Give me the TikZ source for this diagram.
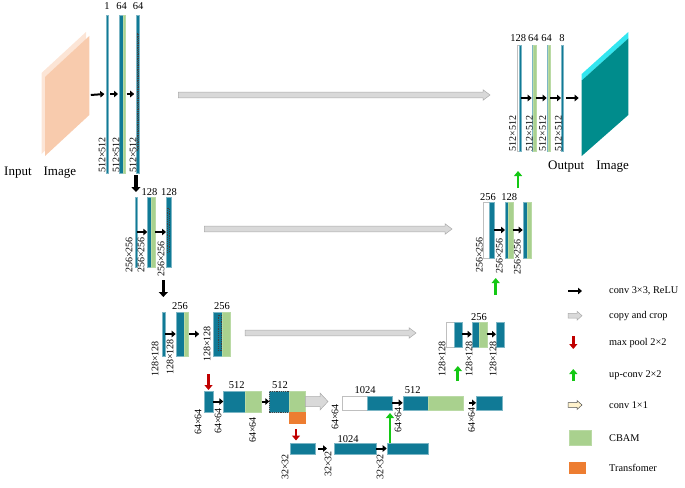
\documentclass[tikz,border=0pt]{standalone}
\usepackage{fontspec}
\setmainfont{Liberation Serif}
\usetikzlibrary{arrows.meta,calc,positioning}

\definecolor{blk}{RGB}{16,122,150}
\definecolor{cbam}{RGB}{169,209,142}
\definecolor{trf}{RGB}{237,125,49}
\definecolor{peach}{RGB}{248,203,173}
\definecolor{peachl}{RGB}{252,229,214}
\definecolor{outt}{RGB}{0,140,140}
\definecolor{outc}{RGB}{51,230,240}
\definecolor{cpfill}{RGB}{217,217,217}
\definecolor{cpline}{RGB}{170,170,170}
\definecolor{poolred}{RGB}{192,0,0}
\definecolor{upgreen}{RGB}{20,200,20}
\definecolor{beige}{RGB}{255,242,204}

% style, from, to, half shaft, half head, head length
\newcommand\fatarrow[6]{%
  \filldraw[#1] ($(#2)+(0,#4)$) -- ($(#3)+(-#6,#4)$) -- ($(#3)+(-#6,#5)$) -- (#3)
    -- ($(#3)+(-#6,-#5)$) -- ($(#3)+(-#6,-#4)$) -- ($(#2)+(0,-#4)$) -- cycle;}

\begin{document}
\begin{tikzpicture}[x=1pt, y=-1pt,
    sz/.style 2 args={minimum width=#1pt, minimum height=#2pt},
    fm/.style={fill=blk, draw=blk!55!white, line width=0.3pt, inner sep=0, outer sep=0, anchor=north west},
    cb/.style={fm, fill=cbam, draw=cbam!80!white},
    wh/.style={fm, fill=white, draw=black!25},
    dsh/.style={draw=black!75, dash pattern=on 1.2pt off 1pt, line width=0.4pt, inner sep=0, outer sep=0, anchor=north west},
    conv/.style={-{Triangle[length=4pt,width=6.5pt]}, line width=2pt, black},
    downarr/.style={-{Triangle[length=5pt,width=9pt]}, line width=3.5pt, black},
    maxpool/.style={-{Triangle[length=5pt,width=8pt]}, line width=2.8pt, poolred},
    upconv/.style={-{Triangle[length=5pt,width=8pt]}, line width=2.8pt, upgreen},
    copyarr/.style={fill=cpfill, draw=cpline, line width=0.5pt},
    num/.style={inner sep=0, font=\fontsize{10.5}{12}\selectfont},
    dim/.style={inner sep=0, rotate=90, anchor=west, font=\fontsize{10}{11}\selectfont},
    lgd/.style={inner sep=0, anchor=west, font=\fontsize{10.3}{12}\selectfont},
    imglbl/.style={inner sep=0, anchor=west, font=\fontsize{13}{15}\selectfont}]
  \useasboundingbox (0,0) rectangle (685,487);

  % input and output image
  \fill[peachl] (41.5,73) -- (86,32) -- (86,113) -- (41.5,154) -- cycle;
  \fill[peach] (45,77) -- (89.3,36) -- (89.3,115) -- (45,156) -- cycle;
  \coordinate (inr) at (89.3,95);
  \node[imglbl] (inlbl) at (4,173) {Input\hspace{12pt}Image};

  \fill[outc] (581.7,74) -- (628.3,32) -- (628.3,38.5) -- (581.7,80.5) -- cycle;
  \fill[outt] (581.7,80.5) -- (628.3,38.5) -- (628.3,115) -- (581.7,156) -- cycle;
  \coordinate (outl) at (581.7,98);
  \node[imglbl] (outlbl) at (548,166.7) {Output\hspace{12pt}Image};

  % encoder 512x512
  \node[fm, sz={2.2}{158}] (e1a) at (106.3,15) {};
  \node[fm, sz={4}{158}] (e1b) at (119,15) {};
  \node[cb, sz={2.5}{158}] (e1bg) at (123,15) {};
  \node[fm, sz={3.6}{158}] (e1c) at (135.7,15) {};
  \node[dsh, sz={1.4}{117}] (e1cd) at (136.8,33) {};
  \node[num] at (107,6) {1};
  \node[num] at (121.5,6) {64};
  \node[num] at (138,6) {64};
  \node[dim] at (102,173) {512×512};
  \node[dim] at (116,173) {512×512};
  \node[dim] at (133,173) {512×512};

  % encoder 256x256
  \node[fm, sz={1.5}{70}] (e2a) at (135.2,197) {};
  \node[fm, sz={3.7}{70}] (e2b) at (147.3,197) {};
  \node[cb, sz={4}{70}] (e2bg) at (151,197) {};
  \node[fm, sz={4.7}{70}] (e2c) at (166,197) {};
  \node[dsh, sz={2.2}{44}] (e2cd) at (167.2,208) {};
  \node[num] at (149.5,192) {128};
  \node[num] at (169,192) {128};
  \node[dim] at (129,273) {256×256};
  \node[dim] at (141,273) {256×256};
  \node[dim] at (161,277) {256×256};

  % encoder 128x128
  \node[fm, sz={3.3}{44}] (e3a) at (161.7,312) {};
  \node[fm, sz={8.6}{44}] (e3b) at (175.7,312) {};
  \node[cb, sz={4}{44}] (e3bg) at (184.3,312) {};
  \node[fm, sz={9.3}{44}] (e3c) at (212.7,312) {};
  \node[cb, sz={8}{44}] (e3cg) at (222,312) {};
  \node[dsh, sz={3.3}{35}] (e3cd) at (217.7,315) {};
  \node[num] at (180,306) {256};
  \node[num] at (222,306) {256};
  \node[dim] at (155,377) {128×128};
  \node[dim] at (170,375) {128×128};
  \node[dim] at (207,362) {128×128};

  % encoder 64x64
  \node[fm, sz={8.4}{21}] (e4a) at (204.3,391) {};
  \node[fm, sz={21.7}{21}] (e4b) at (223.3,391) {};
  \node[cb, sz={15.7}{21}] (e4bg) at (245,391) {};
  \node[fm, sz={20}{21}] (e4c) at (269.3,391) {};
  \node[dsh, sz={20}{21}] (e4cd) at (269.3,391) {};
  \node[cb, sz={16}{21}] (e4cg) at (289.3,391) {};
  \node[fm, fill=trf, draw=trf, sz={16}{11}] (e4t) at (289.3,412) {};
  \node[num] at (236.7,385) {512};
  \node[num] at (280,385) {512};
  \node[dim] at (198,435) {64×64};
  \node[dim] at (218,434) {64×64};
  \node[dim] at (252.7,443) {64×64};

  % bottom 32x32
  \node[fm, sz={25}{11}] (b5a) at (290,443) {};
  \node[fm, sz={41.7}{11}] (b5b) at (334,443) {};
  \node[fm, sz={41.6}{11}] (b5c) at (386.7,443) {};
  \node[num] at (348,439) {1024};
  \node[dim] at (285,480) {32×32};
  \node[dim] at (328,477) {32×32};
  \node[dim] at (380,480) {32×32};

  % decoder 64x64
  \node[wh, sz={25}{14.3}] (d4w) at (341.7,395.7) {};
  \node[fm, sz={25.6}{14.3}] (d4a) at (366.7,395.7) {};
  \node[fm, sz={25.6}{14.3}] (d4b) at (402.7,395.7) {};
  \node[cb, sz={34.4}{14.3}] (d4bg) at (428.3,395.7) {};
  \node[fm, sz={25.7}{14.3}] (d4c) at (476,395.7) {};
  \node[num] at (365,390) {1024};
  \node[num] at (412.7,390) {512};
  \node[dim] at (335,430) {64×64};
  \node[dim] at (398,433) {64×64};
  \node[dim] at (471.7,433) {64×64};

  % decoder 128x128
  \node[wh, sz={8}{25}] (d3w) at (446,321.7) {};
  \node[fm, sz={7.7}{25}] (d3a) at (454,321.7) {};
  \node[fm, sz={7.6}{25}] (d3b) at (471.7,321.7) {};
  \node[cb, sz={7.4}{25}] (d3bg) at (479.3,321.7) {};
  \node[fm, sz={8}{25}] (d3c) at (496,321.7) {};
  \node[num] at (479,316.7) {256};
  \node[dim] at (442,377) {128×128};
  \node[dim] at (469,377) {128×128};
  \node[dim] at (493,377) {128×128};

  % decoder 256x256
  \node[wh, sz={5.7}{56.6}] (d2w) at (483.3,201.7) {};
  \node[fm, sz={5}{56.6}] (d2a) at (489,201.7) {};
  \node[fm, sz={3.3}{56.6}] (d2b) at (505,201.7) {};
  \node[cb, sz={4.4}{56.6}] (d2bg) at (508.3,201.7) {};
  \node[fm, sz={4}{56.6}] (d2c) at (522.7,201.7) {};
  \node[cb, sz={4}{56.6}] (d2cg) at (526.7,201.7) {};
  \node[num] at (488,196.7) {256};
  \node[num] at (509.3,196.7) {128};
  \node[dim] at (479.3,273) {256×256};
  \node[dim] at (499.3,274) {256×256};
  \node[dim] at (517.3,275) {256×256};

  % decoder 512x512
  \node[wh, sz={2.3}{106}] (d1w) at (516.7,45) {};
  \node[fm, sz={1.7}{106}] (d1a) at (519,45) {};
  \node[fm, sz={1.6}{106}] (d1b) at (531.7,45) {};
  \node[cb, sz={2.4}{106}] (d1bg) at (533.3,45) {};
  \node[fm, sz={1.6}{106}] (d1c) at (546.7,45) {};
  \node[cb, sz={1.7}{106}] (d1cg) at (548.3,45) {};
  \node[fm, sz={1.7}{106}] (d1d) at (561,45) {};
  \node[num] at (518.3,38.3) {128};
  \node[num] at (533.3,38.3) {64};
  \node[num] at (546.7,38.3) {64};
  \node[num] at (562,38.3) {8};
  \node[dim] at (512.7,151.7) {512×512};
  \node[dim] at (529.3,151.7) {512×512};
  \node[dim] at (542.7,151.7) {512×512};
  \node[dim] at (558.3,151.7) {512×512};

  % conv 3x3 arrows
  \draw[conv] ([xshift=1.5pt]inr) -- ([xshift=-2pt]e1a.west);
  \draw[conv] ([xshift=1.5pt]e1a.east) -- ([xshift=-1pt]e1b.west);
  \draw[conv] ([xshift=1pt]e1bg.east) -- ([xshift=-1.5pt]e1c.west);
  \draw[conv] (e2a.east) -- (e2b.west);
  \draw[conv] (e2bg.east) -- (e2c.west);
  \draw[conv] (e3a.east) -- (e3b.west);
  \draw[conv] ([xshift=0.5pt]e3bg.east) -- ([xshift=-13.5pt]e3c.west);
  \draw[conv] (e4a.east) -- (e4b.west);
  \draw[conv] ([xshift=1pt]e4bg.east) -- (e4c.west);
  \draw[conv] ([xshift=3pt]b5a.east) -- ([xshift=-7pt]b5b.west);
  \draw[conv] (b5b.east) -- (b5c.west);
  \draw[conv] (d4a.east) -- (d4b.west);
  \draw[conv] ([xshift=6.5pt]d4bg.east) -- (d4c.west);
  \draw[conv] (d3a.east) -- (d3b.west);
  \draw[conv] (d3bg.east) -- (d3c.west);
  \draw[conv] (d2a.east) -- (d2b.west);
  \draw[conv] (d2bg.east) -- (d2c.west);
  \draw[conv] (d1a.east) -- (d1b.west);
  \draw[conv] (d1bg.east) -- (d1c.west);
  \draw[conv] (d1cg.east) -- (d1d.west);
  \draw[conv] ([xshift=3pt]d1d.east) -- ([xshift=-3pt]outl);

  % down / pool / up-conv arrows
  \draw[downarr] ([yshift=-2pt]e1c.south -| e2a.north) -- ([yshift=5pt]e2a.north);
  \draw[downarr] ([yshift=-13pt]e2c.south -| e3a.north) -- ([yshift=15pt]e3a.north);
  \draw[maxpool] ([yshift=17pt]e4a.north) -- ([yshift=1pt]e4a.north);
  \draw[maxpool] ([xshift=-6.5pt,yshift=14pt]b5a.north) -- ([xshift=-6.5pt,yshift=2.5pt]b5a.north);
  \draw[upconv] ([xshift=3.3pt]b5c.north west) -- ([xshift=3.3pt,yshift=30pt]b5c.north west);
  \draw[upconv] ([yshift=-34.3pt]d3a.south) -- ([yshift=-19.3pt]d3a.south);
  \draw[upconv] ([xshift=4.2pt,yshift=-36.7pt]d2a.south) -- ([xshift=4.2pt,yshift=-19.7pt]d2a.south);
  \draw[upconv] ([xshift=-1.8pt,yshift=-37pt]d1a.south) -- ([xshift=-1.8pt,yshift=-20pt]d1a.south);

  % copy and crop
  \coordinate (c1s) at (178.3,95);  \coordinate (c1e) at (490,95);
  \coordinate (c2s) at (204.3,229); \coordinate (c2e) at (452,229);
  \coordinate (c3s) at (245,333);   \coordinate (c3e) at (416,333);
  \coordinate (c4e) at (328,401.5);
  \fatarrow{copyarr}{c1s}{c1e}{2.8}{5.3}{7}
  \fatarrow{copyarr}{c2s}{c2e}{2.8}{5.3}{7}
  \fatarrow{copyarr}{c3s}{c3e}{2.8}{5.3}{7}
  \fatarrow{copyarr}{e4cg.east}{c4e}{5}{8.5}{8}

  % legend
  \coordinate (k1) at (568,291);
  \coordinate (k2s) at (568,315.7); \coordinate (k2e) at (582,315.7);
  \coordinate (k3) at (573.3,336);
  \coordinate (k4) at (573.3,381);
  \coordinate (k5s) at (568,405);   \coordinate (k5e) at (582,405);
  \draw[conv] (k1) -- ++(14,0);
  \fatarrow{copyarr}{k2s}{k2e}{2.3}{4.5}{5}
  \draw[maxpool] (k3) -- ++(0,13);
  \draw[upconv] (k4) -- ++(0,-12);
  \fatarrow{fill=beige, draw=black!70, line width=0.5pt}{k5s}{k5e}{2.3}{4.5}{5}
  \node[cb, sz={21.7}{15}] (k6) at (569,430) {};
  \node[fm, fill=trf, draw=trf, sz={16}{11.6}] (k7) at (569,461.7) {};
  \node[lgd] (l1) at (609,291) {conv 3×3, ReLU};
  \node[lgd] (l2) at (609,316) {copy and crop};
  \node[lgd] (l3) at (609,343) {max pool 2×2};
  \node[lgd] (l4) at (609,375.3) {up-conv 2×2};
  \node[lgd] (l5) at (609,405) {conv 1×1};
  \node[lgd] (l6) at (609,437.7) {CBAM};
  \node[lgd] (l7) at (609,467.5) {Transfomer};
\end{tikzpicture}
\end{document}
